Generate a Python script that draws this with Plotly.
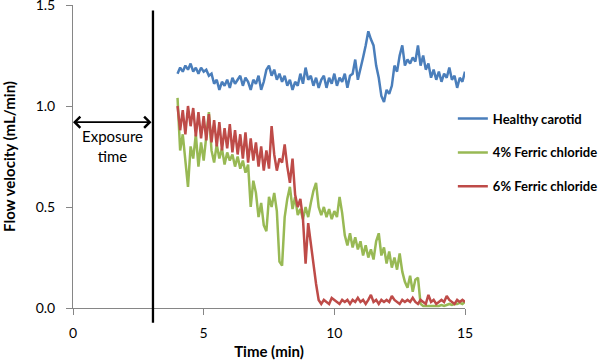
import plotly.graph_objects as go

time_min = [4.0, 4.1, 4.2, 4.3, 4.4, 4.5, 4.6, 4.7, 4.8, 4.9,
            5.0, 5.1, 5.2, 5.3, 5.4, 5.5, 5.6, 5.7, 5.8, 5.9,
            6.0, 6.1, 6.2, 6.3, 6.4, 6.5, 6.6, 6.7, 6.8, 6.9,
            7.0, 7.1, 7.2, 7.3, 7.4, 7.5, 7.6, 7.7, 7.8, 7.9,
            8.0, 8.1, 8.2, 8.3, 8.4, 8.5, 8.6, 8.7, 8.8, 8.9,
            9.0, 9.1, 9.2, 9.3, 9.4, 9.5, 9.6, 9.7, 9.8, 9.9,
            10.0, 10.1, 10.2, 10.3, 10.4, 10.5, 10.6, 10.7, 10.8, 10.9,
            11.0, 11.1, 11.2, 11.3, 11.4, 11.5, 11.6, 11.7, 11.8, 11.9,
            12.0, 12.1, 12.2, 12.3, 12.4, 12.5, 12.6, 12.7, 12.8, 12.9,
            13.0, 13.1, 13.2, 13.3, 13.4, 13.5, 13.6, 13.7, 13.8, 13.9,
            14.0, 14.1, 14.2, 14.3, 14.4, 14.5, 14.6, 14.7, 14.8, 14.9,
            15.0]

healthy = [1.16, 1.19, 1.17, 1.20, 1.18, 1.21, 1.17, 1.19, 1.16, 1.19,
           1.17, 1.18, 1.15, 1.16, 1.11, 1.13, 1.08, 1.12, 1.10, 1.13,
           1.09, 1.14, 1.11, 1.13, 1.15, 1.10, 1.14, 1.12, 1.08, 1.13,
           1.11, 1.15, 1.08, 1.12, 1.18, 1.20, 1.15, 1.18, 1.13, 1.16,
           1.12, 1.15, 1.10, 1.13, 1.08, 1.12, 1.10, 1.16, 1.11, 1.19,
           1.13, 1.15, 1.10, 1.14, 1.09, 1.13, 1.15, 1.09, 1.14, 1.11,
           1.16, 1.10, 1.14, 1.12, 1.16, 1.09, 1.15, 1.16, 1.23, 1.13,
           1.18, 1.24, 1.30, 1.37, 1.33, 1.30, 1.20, 1.14, 1.05, 1.02,
           1.08, 1.06, 1.10, 1.20, 1.17, 1.25, 1.30, 1.20, 1.23, 1.21,
           1.24, 1.22, 1.30, 1.20, 1.25, 1.18, 1.21, 1.14, 1.18, 1.13,
           1.17, 1.12, 1.16, 1.14, 1.19, 1.13, 1.15, 1.09, 1.14, 1.12,
           1.17]

ferric4 = [1.04, 0.78, 0.86, 0.72, 0.60, 0.80, 0.74, 0.86, 0.70, 0.82,
           0.73, 0.85, 0.97, 0.78, 0.72, 0.81, 0.74, 0.79, 0.71, 0.77,
           0.73, 0.76, 0.70, 0.75, 0.69, 0.73, 0.67, 0.71, 0.50, 0.63,
           0.57, 0.45, 0.52, 0.41, 0.38, 0.55, 0.50, 0.57, 0.48, 0.23,
           0.21, 0.45, 0.54, 0.60, 0.49, 0.55, 0.46, 0.49, 0.44, 0.50,
           0.45, 0.52, 0.58, 0.62, 0.50, 0.46, 0.50, 0.45, 0.49, 0.44,
           0.48, 0.45, 0.55, 0.47, 0.36, 0.31, 0.37, 0.30, 0.35, 0.29,
           0.33, 0.26, 0.31, 0.25, 0.29, 0.24, 0.33, 0.37, 0.26, 0.30,
           0.22, 0.28, 0.20, 0.25, 0.19, 0.27, 0.18, 0.13, 0.10, 0.16,
           0.08, 0.14, 0.15, 0.02, 0.01, 0.01, 0.01, 0.01, 0.01, 0.01,
           0.01, 0.015, 0.01, 0.015, 0.02, 0.015, 0.02, 0.02, 0.025, 0.02,
           0.03]

ferric6 = [1.00, 0.88, 0.98, 0.86, 1.00, 0.90, 0.99, 0.85, 0.97, 0.84,
           0.95, 0.83, 0.96, 0.82, 0.93, 0.80, 0.92, 0.78, 0.89, 0.79,
           0.91, 0.77, 0.88, 0.76, 0.86, 0.74, 0.87, 0.72, 0.84, 0.73,
           0.82, 0.70, 0.80, 0.68, 0.78, 0.69, 0.90, 0.76, 0.68, 0.74,
           0.72, 0.81, 0.70, 0.62, 0.74, 0.56, 0.50, 0.54, 0.44, 0.22,
           0.42, 0.33, 0.22, 0.12, 0.04, 0.02, 0.04, 0.03, 0.02, 0.05,
           0.04, 0.03, 0.02, 0.04, 0.03, 0.04, 0.02, 0.04, 0.03, 0.05,
           0.03, 0.04, 0.02, 0.04, 0.065, 0.03, 0.04, 0.02, 0.04, 0.03,
           0.04, 0.03, 0.06, 0.04, 0.03, 0.02, 0.04, 0.03, 0.04, 0.03,
           0.05, 0.03, 0.02, 0.04, 0.03, 0.02, 0.065, 0.03, 0.04, 0.02,
           0.03, 0.04, 0.03, 0.06, 0.04, 0.03, 0.02, 0.04, 0.03, 0.04,
           0.03]

series_names = ["Healthy carotid", "4% Ferric chloride", "6% Ferric chloride"]
series_colors = ["#4A7EBB", "#98B954", "#BE4B48"]

x_ticks = [0, 5, 10, 15]
y_ticks = [0.0, 0.5, 1.0, 1.5]
x_range = [0, 15]
y_range = [0, 1.5]

exposure_end = 3.06
arrow_y = 0.92

FONT = "Lato"

fig = go.Figure()
for name, vals, col in zip(series_names, [healthy, ferric4, ferric6], series_colors):
    fig.add_trace(go.Scatter(x=time_min, y=vals, mode="lines", name=name,
                             legendgroup=name,
                             line=dict(color=col, width=2.5)))

# vertical exposure line (extends beyond plot area)
fig.add_shape(type="line", xref="paper", yref="paper",
              x0=exposure_end / x_range[1], x1=exposure_end / x_range[1],
              y0=-0.073 / y_range[1], y1=1.473 / y_range[1],
              line=dict(color="black", width=2.3))

# double-headed arrow
fig.add_annotation(x=0, y=arrow_y, ax=exposure_end, ay=arrow_y,
                   xref="x", yref="y", axref="x", ayref="y",
                   text="", showarrow=True, arrowside="end+start",
                   arrowhead=4, startarrowhead=4, arrowsize=1.2, startarrowsize=1.2,
                   arrowwidth=1.8, arrowcolor="black", standoff=0, startstandoff=0)
fig.add_annotation(x=exposure_end / 2, y=arrow_y, xref="x", yref="y",
                   text="Exposure<br>time", showarrow=False, yanchor="top", yshift=-3,
                   font=dict(family=FONT, size=15, color="black"), align="center")

axis_common = dict(showline=True, linecolor="#868686", linewidth=1,
                   ticks="outside", ticklen=6, tickcolor="#868686", showgrid=False,
                   zeroline=False, automargin=False, ticklabeloverflow="allow",
                   tickfont=dict(family=FONT, size=14, color="black"))

fig.update_layout(
    width=600, height=361,
    margin=dict(l=73, r=135, t=5, b=53, autoexpand=False),
    paper_bgcolor="white", plot_bgcolor="white",
    xaxis=dict(range=x_range, tickvals=x_ticks, ticklabelstandoff=6,
               title=dict(text="<b>Time (min)</b>", font=dict(family=FONT, size=15, color="black"),
                          standoff=6),
               **axis_common),
    yaxis=dict(range=y_range, tickvals=y_ticks, tickformat=".1f", ticklabelstandoff=8,
               title=dict(text="<b>Flow velocity (mL/min)</b>", font=dict(family=FONT, size=15, color="black"),
                          standoff=16),
               **axis_common),
    legend=dict(x=0.969, xanchor="left", y=0.513, yanchor="middle",
                font=dict(family=FONT, size=13, color="black", weight="bold"),
                tracegroupgap=14, traceorder="grouped", bgcolor="rgba(0,0,0,0)"),
    showlegend=True,
)

fig.write_html("out.html", config={"displayModeBar": False},
               post_script="document.body.style.margin='0px';")
